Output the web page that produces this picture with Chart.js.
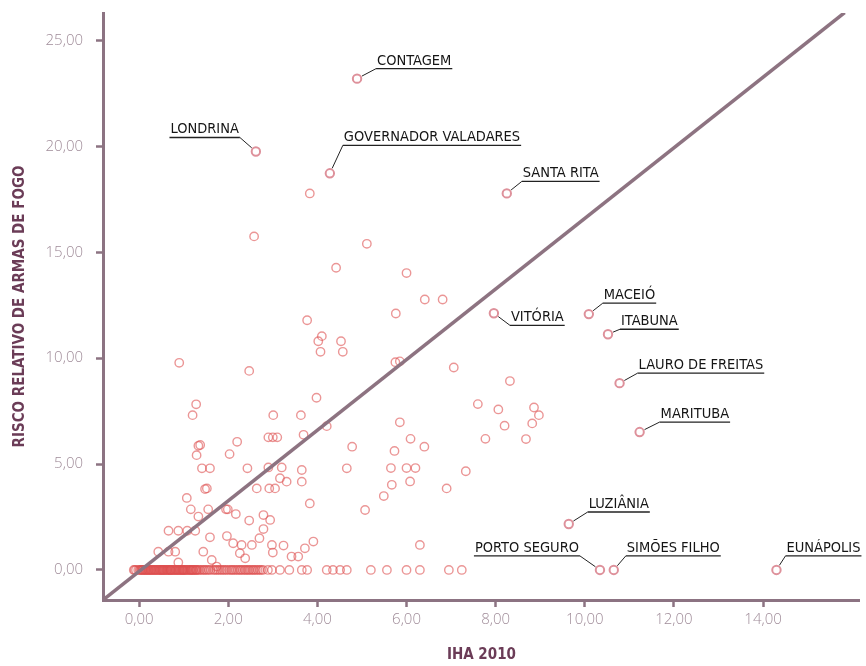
<!DOCTYPE html>
<html>
<head>
<meta charset="utf-8">
<script src="https://cdn.jsdelivr.net/npm/chart.js@4/dist/chart.umd.min.js"></script>
<style>
  html, body { margin: 0; padding: 0; background: #ffffff; }
  #wrap { width: 866px; height: 666px; position: relative; }
</style>
</head>
<body>
<div id="wrap"><canvas id="c"></canvas></div>
<script>
// ---- DATA ----
// unlabeled municipalities: IHA 2010 (x) and relative firearm risk (y)
const ihaValues = [
  3.83, 2.58, 5.11, 4.42, 6.00, 6.41, 6.81, 5.76, 3.77, 4.10,
  4.02, 4.07, 4.53, 4.57, 7.06, 5.75, 5.85, 0.90, 2.47, 8.32,
  3.98, 1.28, 1.20, 3.01, 3.63, 5.85, 4.21, 7.60, 8.06, 8.86,
  8.97, 8.20, 8.82, 7.77, 8.68, 3.69, 2.90, 3.00, 3.10, 6.09,
  2.20, 1.33, 1.37, 1.29, 2.03, 4.78, 6.40, 5.73, 1.41, 1.59,
  2.43, 2.90, 3.20, 3.65, 4.66, 5.65, 6.00, 6.20, 7.33, 3.16,
  3.31, 3.65, 6.08, 5.67, 1.48, 1.52, 2.64, 2.92, 3.05, 6.90,
  5.49, 1.07, 3.83, 5.07, 1.16, 1.55, 1.95, 1.99, 2.17, 2.79,
  1.33, 2.47, 2.94, 2.79, 0.66, 0.88, 1.08, 1.26, 1.59, 1.97,
  2.70, 3.91, 2.11, 2.30, 2.53, 2.98, 3.24, 6.30, 3.72, 0.43,
  0.66, 0.81, 1.44, 3.00, 2.26, 3.42, 3.57, 2.38, 1.63, 0.88,
  1.74,
  // zero row
  -0.12, -0.07, -0.02, 0.03, 0.08, 0.12, 0.17, 0.21, 0.26, 0.31,
  0.35, 0.40, 0.44, 0.49, 0.53, 0.58, 0.62, 0.67, 0.71, 0.76,
  0.80, 0.85, 0.89, 0.94, 0.98, 1.03, 1.07, 1.12, 1.16, 1.21,
  1.25, 1.30, 0.15, 0.38, 0.60, 0.82, 1.00, 0.50, 0.72, 0.27,
  -0.10, 0.05, 0.19, 0.33, 0.46, 0.56, 0.65, 0.78, 0.92, 1.05,
  1.14, 1.27, 0.10, 0.42, 0.69, 0.96, 1.19, 0.24, 0.87, 1.34,
  0.01, 0.14, 0.29, 0.36, 0.52, 0.63, 0.74, 0.83, 0.97, 1.09,
  1.22, 0.07, 0.22, 0.47, 0.55, 0.70, 0.91, 1.01, 1.17, 1.29,
  1.37, 1.45, 1.52, 1.60, 1.70, 1.78, 1.86, 1.94, 2.03, 2.10,
  2.18, 2.26, 2.33, 2.40, 2.47, 2.55, 2.62, 2.70, 2.78, 2.89,
  1.41, 1.56, 1.74, 1.90, 2.07, 2.22, 2.37, 2.51, 2.66,
  1.48, 1.66, 1.82, 1.98, 2.14, 2.29, 2.44, 2.58, 2.74,
  2.98, 3.16, 3.37, 3.65, 3.77, 4.21, 4.35, 4.51, 4.66, 5.20,
  5.56, 6.00, 6.30, 6.95, 7.24
];
const riscoValues = [
  17.78, 15.75, 15.40, 14.27, 14.02, 12.77, 12.77, 12.11, 11.79, 11.04,
  10.80, 10.30, 10.80, 10.30, 9.56, 9.81, 9.85, 9.78, 9.40, 8.92,
  8.13, 7.82, 7.31, 7.31, 7.31, 6.97, 6.79, 7.83, 7.58, 7.67,
  7.31, 6.81, 6.92, 6.19, 6.18, 6.38, 6.26, 6.26, 6.26, 6.19,
  6.05, 5.86, 5.90, 5.42, 5.47, 5.82, 5.82, 5.62, 4.80, 4.80,
  4.80, 4.84, 4.84, 4.72, 4.80, 4.81, 4.81, 4.81, 4.66, 4.33,
  4.17, 4.17, 4.18, 4.02, 3.82, 3.85, 3.85, 3.85, 3.85, 3.85,
  3.49, 3.40, 3.14, 2.83, 2.86, 2.86, 2.86, 2.86, 2.64, 2.59,
  2.52, 2.33, 2.36, 1.93, 1.85, 1.85, 1.85, 1.85, 1.54, 1.60,
  1.50, 1.34, 1.26, 1.18, 1.18, 1.18, 1.15, 1.18, 1.02, 0.86,
  0.86, 0.86, 0.86, 0.82, 0.79, 0.63, 0.63, 0.55, 0.47, 0.35,
  0.16,
  // zero row
  0, 0, 0, 0, 0, 0, 0, 0, 0, 0,
  0, 0, 0, 0, 0, 0, 0, 0, 0, 0,
  0, 0, 0, 0, 0, 0, 0, 0, 0, 0,
  0, 0, 0, 0, 0, 0, 0, 0, 0, 0,
  0, 0, 0, 0, 0, 0, 0, 0, 0, 0,
  0, 0, 0, 0, 0, 0, 0, 0, 0, 0,
  0, 0, 0, 0, 0, 0, 0, 0, 0, 0,
  0, 0, 0, 0, 0, 0, 0, 0, 0, 0,
  0, 0, 0, 0, 0, 0, 0, 0, 0, 0,
  0, 0, 0, 0, 0, 0, 0, 0, 0, 0,
  0, 0, 0, 0, 0, 0, 0, 0, 0,
  0, 0, 0, 0, 0, 0, 0, 0, 0,
  0, 0, 0, 0, 0, 0, 0, 0, 0, 0,
  0, 0, 0, 0, 0
];

// labeled municipalities
const cityNames = ['CONTAGEM', 'LONDRINA', 'GOVERNADOR VALADARES', 'SANTA RITA', 'MACEIÓ', 'VITÓRIA',
  'ITABUNA', 'LAURO DE FREITAS', 'MARITUBA', 'LUZIÂNIA', 'PORTO SEGURO', 'SIMÕES FILHO', 'EUNÁPOLIS'];
const cityIha =   [4.89, 2.62, 4.28, 8.25, 10.09, 7.96, 10.52, 10.78, 11.23, 9.64, 10.34, 10.65, 14.30];
const cityRisco = [23.20, 19.76, 18.73, 17.78, 12.08, 12.12, 11.13, 8.82, 6.51, 2.17, 0.00, 0.00, 0.00];

// reference diagonal
const diagIha = [-0.81, 15.83];
const diagRisco = [-1.42, 26.32];

// tick values and labels
const xTickValues = [0, 2, 4, 6, 8, 10, 12, 14];
const xTickLabels = ['0,00', '2,00', '4,00', '6,00', '8,00', '10,00', '12,00', '14,00'];
const yTickValues = [0, 5, 10, 15, 20, 25];
const yTickLabels = ['0,00', '5,00', '10,00', '15,00', '20,00', '25,00'];

const xTitle = 'IHA 2010';
const yTitle = 'RISCO RELATIVO DE ARMAS DE FOGO';

// ---- STYLE / LAYOUT ----
const axisColor = '#8c7382';
const tickTextColor = '#a08c99';
const titleColor = '#6b3c57';
const labelLayout = {
  'CONTAGEM':             { side: 'r', dx: 19,  dy: -10 },
  'LONDRINA':             { side: 'l', dx: -16, dy: -14 },
  'GOVERNADOR VALADARES': { side: 'r', dx: 13,  dy: -28 },
  'SANTA RITA':           { side: 'r', dx: 15,  dy: -12 },
  'MACEIÓ':               { side: 'r', dx: 14,  dy: -11 },
  'VITÓRIA':              { side: 'r', dx: 16,  dy: 12 },
  'ITABUNA':              { side: 'r', dx: 12,  dy: -5 },
  'LAURO DE FREITAS':     { side: 'r', dx: 18,  dy: -10 },
  'MARITUBA':             { side: 'r', dx: 20,  dy: -10 },
  'LUZIÂNIA':             { side: 'r', dx: 19,  dy: -12 },
  'PORTO SEGURO':         { side: 'l', dx: -20, dy: -14 },
  'SIMÕES FILHO':         { side: 'r', dx: 12,  dy: -14 },
  'EUNÁPOLIS':            { side: 'r', dx: 9,   dy: -14 }
};

const labelPlugin = {
  id: 'cityLabels',
  afterDatasetsDraw(chart) {
    const ctx = chart.ctx;
    const xs = chart.scales.x, ys = chart.scales.y;
    ctx.save();
    ctx.font = '14.5px "DejaVu Sans Condensed", "DejaVu Sans", sans-serif';
    ctx.fillStyle = '#151515';
    ctx.strokeStyle = '#222222';
    ctx.textBaseline = 'alphabetic';
    cityNames.forEach((name, i) => {
      const lay = labelLayout[name];
      const px = xs.getPixelForValue(cityIha[i]);
      const py = ys.getPixelForValue(cityRisco[i]);
      const ex = px + lay.dx, ey = py + lay.dy;
      const vx = ex - px, vy = ey - py;
      const len = Math.hypot(vx, vy);
      const sx = px + vx / len * 5.5, sy = py + vy / len * 5.5;
      const w = ctx.measureText(name).width;
      ctx.lineWidth = 1;
      ctx.beginPath();
      ctx.moveTo(sx, sy);
      ctx.lineTo(ex, ey);
      ctx.stroke();
      ctx.lineWidth = 1.3;
      ctx.beginPath();
      if (lay.side === 'r') {
        ctx.moveTo(ex, ey);
        ctx.lineTo(ex + w + 2, ey);
        ctx.stroke();
        ctx.textAlign = 'left';
        ctx.fillText(name, ex + 1, ey - 4);
      } else {
        ctx.moveTo(ex, ey);
        ctx.lineTo(ex - w - 2, ey);
        ctx.stroke();
        ctx.textAlign = 'right';
        ctx.fillText(name, ex - 1, ey - 4);
      }
    });
    ctx.restore();
  }
};

const zeroPad = (scale) => {
  scale.paddingTop = 0; scale.paddingBottom = 0;
  scale.paddingLeft = 0; scale.paddingRight = 0;
};

const ctx = document.getElementById('c');
new Chart(ctx, {
  type: 'scatter',
  data: {
    datasets: [
      {
        type: 'line',
        label: 'diagonal',
        data: diagIha.map((v, i) => ({ x: v, y: diagRisco[i] })),
        borderColor: '#8d7381',
        borderWidth: 3.5,
        pointRadius: 0,
        fill: false,
        order: 0
      },
      {
        label: 'cidades',
        data: cityIha.map((v, i) => ({ x: v, y: cityRisco[i] })),
        pointStyle: 'circle',
        pointRadius: 4.2,
        pointBorderWidth: 2,
        pointBorderColor: 'rgba(214,118,130,0.8)',
        pointBackgroundColor: 'rgba(255,255,255,0)',
        order: 1
      },
      {
        label: 'municípios',
        data: ihaValues.map((v, i) => ({ x: v, y: riscoValues[i] })),
        pointStyle: 'circle',
        pointRadius: 4.2,
        pointBorderWidth: 1.4,
        pointBorderColor: 'rgba(222,80,80,0.6)',
        pointBackgroundColor: 'rgba(255,255,255,0)',
        order: 2
      }
    ]
  },
  options: {
    responsive: true,
    maintainAspectRatio: false,
    animation: false,
    events: [],
    layout: { padding: { top: 13, right: 6, left: 0, bottom: 0 } },
    plugins: { legend: { display: false }, tooltip: { enabled: false } },
    scales: {
      x: {
        type: 'linear',
        min: -0.81,
        max: 16.17,
        border: { display: true, color: axisColor, width: 3 },
        grid: { display: true, drawOnChartArea: false, drawTicks: true, tickLength: 7, tickWidth: 2.5, tickColor: axisColor },
        afterBuildTicks: (axis) => { axis.ticks = xTickValues.map(v => ({ value: v })); },
        afterFit: (scale) => { scale.height = 66; zeroPad(scale); },
        ticks: {
          autoSkip: false, maxRotation: 0, padding: 4,
          color: tickTextColor,
          font: { family: '"Open Sans", sans-serif', size: 15, weight: '300' },
          callback: (v, i) => xTickLabels[i]
        },
        title: {
          display: true, text: xTitle, color: titleColor,
          font: { family: '"DejaVu Sans Condensed", "DejaVu Sans", sans-serif', size: 15, weight: 'bold' },
          padding: { top: 0, bottom: 2 }
        }
      },
      y: {
        type: 'linear',
        min: -1.42,
        max: 26.3,
        border: { display: true, color: axisColor, width: 3 },
        grid: { display: true, drawOnChartArea: false, drawTicks: true, tickLength: 7, tickWidth: 2.5, tickColor: axisColor },
        afterBuildTicks: (axis) => { axis.ticks = yTickValues.map(v => ({ value: v })); },
        afterFit: (scale) => { scale.width = 103; zeroPad(scale); },
        ticks: {
          autoSkip: false, padding: 13,
          color: tickTextColor,
          font: { family: '"Open Sans", sans-serif', size: 15, weight: '300' },
          callback: (v, i) => yTickLabels[i]
        },
        title: {
          display: true, text: yTitle, color: titleColor,
          font: { family: '"DejaVu Sans Condensed", "DejaVu Sans", sans-serif', size: 15, weight: 'bold' },
          padding: { top: 11, bottom: 0 }
        }
      }
    }
  },
  plugins: [labelPlugin]
});
</script>
</body>
</html>
